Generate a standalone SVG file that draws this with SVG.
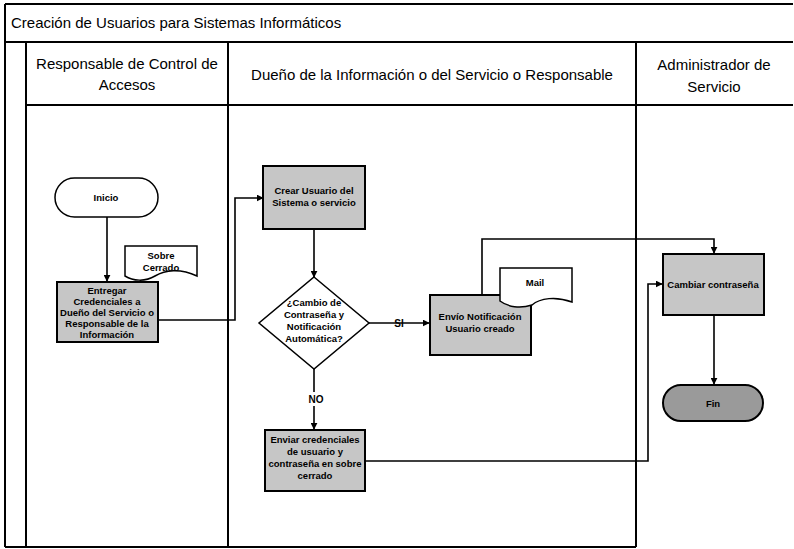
<svg xmlns="http://www.w3.org/2000/svg" width="794" height="549" viewBox="0 0 794 549">
<style>
text{font-family:"Liberation Sans","Open Sans",sans-serif;fill:#000}
.frame{stroke:#000;stroke-width:2;fill:none}
.hdr{font-size:15px}
.ttl{font-size:15px}
.box{fill:#c6c6c6;stroke:#000;stroke-width:2}
.dark{fill:#9a9a9a;stroke:#000;stroke-width:2}
.wht{fill:#fff;stroke:#000;stroke-width:1.5}
.lbl{font-size:9.5px;font-weight:bold;text-anchor:middle}
.edge{stroke:#000;stroke-width:1.6;fill:none;marker-end:url(#ah)}
.line{stroke:#000;stroke-width:1.6;fill:none}
.elbl{font-size:10px;font-weight:bold;text-anchor:middle}
</style>
<defs>
<marker id="ah" viewBox="0 0 10 10" refX="9" refY="5" markerWidth="7" markerHeight="7" orient="auto" markerUnits="userSpaceOnUse">
<path d="M0,0 L10,5 L0,10 z" fill="#000"/>
</marker>
</defs>
<rect width="794" height="549" fill="#fff"/>
<g id="frame">
<line class="frame" x1="5" y1="4" x2="793" y2="4"/>
<line class="frame" x1="5" y1="4" x2="5" y2="547"/>
<line class="frame" x1="5" y1="42" x2="793" y2="42"/>
<line class="frame" x1="26" y1="105" x2="793" y2="105"/>
<line class="frame" x1="26" y1="42" x2="26" y2="547"/>
<line class="frame" x1="228" y1="42" x2="228" y2="547"/>
<line class="frame" x1="636" y1="42" x2="636" y2="547"/>
<line class="frame" x1="5" y1="547" x2="636" y2="547"/>
<text class="ttl" x="11" y="28">Creación de Usuarios para Sistemas Informáticos</text>
<text class="hdr" x="127" y="69" text-anchor="middle">Responsable de Control de</text>
<text class="hdr" x="127" y="90" text-anchor="middle">Accesos</text>
<text class="hdr" x="432" y="80" text-anchor="middle">Dueño de la Información o del Servicio o Responsable</text>
<text class="hdr" x="714" y="70" text-anchor="middle">Administrador de</text>
<text class="hdr" x="714" y="92" text-anchor="middle">Servicio</text>
</g>
<g id="connectors">
<path class="edge" d="M107,217 L107,281"/>
<path class="edge" d="M158,320 L235,320 L235,198 L263,198"/>
<path class="edge" d="M314,229 L314,277"/>
<path class="edge" d="M369,323 L429,323"/>
<text class="elbl" x="399" y="327">SI</text>
<path class="line" d="M314,369 L314,392"/>
<path class="edge" d="M314,406 L314,429"/>
<text class="elbl" x="316" y="403">NO</text>
<path class="edge" d="M482,295 L482,239 L714,239 L714,253"/>
<path class="edge" d="M365,461 L648,461 L648,284 L662,284"/>
<path class="edge" d="M714,315 L714,384"/>
</g>
<g id="inicio">
<rect class="wht" x="55" y="178" width="103" height="39" rx="19.5"/>
<text class="lbl" x="106" y="201">Inicio</text>
</g>
<g id="sobre-cerrado">
<path class="wht" d="M125,246 L197,246 L197,276 C180,268 165,270 155,276 C145,282 133,281 125,276 Z"/>
<text class="lbl" x="161" y="259">Sobre</text>
<text class="lbl" x="161" y="271">Cerrado</text>
</g>
<g id="entregar">
<rect class="box" x="57" y="282" width="101" height="60"/>
<text class="lbl" x="107" y="294">Entregar</text>
<text class="lbl" x="107" y="305">Credenciales a</text>
<text class="lbl" x="107" y="316">Dueño del Servicio o</text>
<text class="lbl" x="107" y="327">Responsable de la</text>
<text class="lbl" x="107" y="338">Información</text>
</g>
<g id="crear-usuario">
<rect class="box" x="263" y="166" width="102" height="63"/>
<text class="lbl" x="314" y="194">Crear Usuario del</text>
<text class="lbl" x="314" y="206">Sistema o servicio</text>
</g>
<g id="decision">
<polygon class="wht" points="314,277 369,323 314,369 259,323"/>
<text class="lbl" x="314" y="306">¿Cambio de</text>
<text class="lbl" x="314" y="318">Contraseña y</text>
<text class="lbl" x="314" y="330">Notificación</text>
<text class="lbl" x="314" y="342">Automática?</text>
</g>
<g id="envio-notificacion">
<rect class="box" x="430" y="295" width="101" height="60"/>
<text class="lbl" x="480" y="320">Envío Notificación</text>
<text class="lbl" x="480" y="332">Usuario creado</text>
</g>
<g id="mail">
<path class="wht" d="M500,268 L572,268 L572,302 C556,296 540,298 532,305 C520,309 508,307 500,301 Z"/>
<text class="lbl" x="535" y="286">Mail</text>
</g>
<g id="enviar-credenciales">
<rect class="box" x="265" y="430" width="100" height="61"/>
<text class="lbl" x="315" y="443">Enviar credenciales</text>
<text class="lbl" x="315" y="455">de usuario y</text>
<text class="lbl" x="315" y="467">contraseña en sobre</text>
<text class="lbl" x="315" y="479">cerrado</text>
</g>
<g id="cambiar-contrasena">
<rect class="box" x="663" y="254" width="101" height="61"/>
<text class="lbl" x="713" y="288">Cambiar contraseña</text>
</g>
<g id="fin">
<rect class="dark" x="663" y="385" width="100" height="36" rx="18"/>
<text class="lbl" x="713" y="407">Fin</text>
</g>
</svg>
